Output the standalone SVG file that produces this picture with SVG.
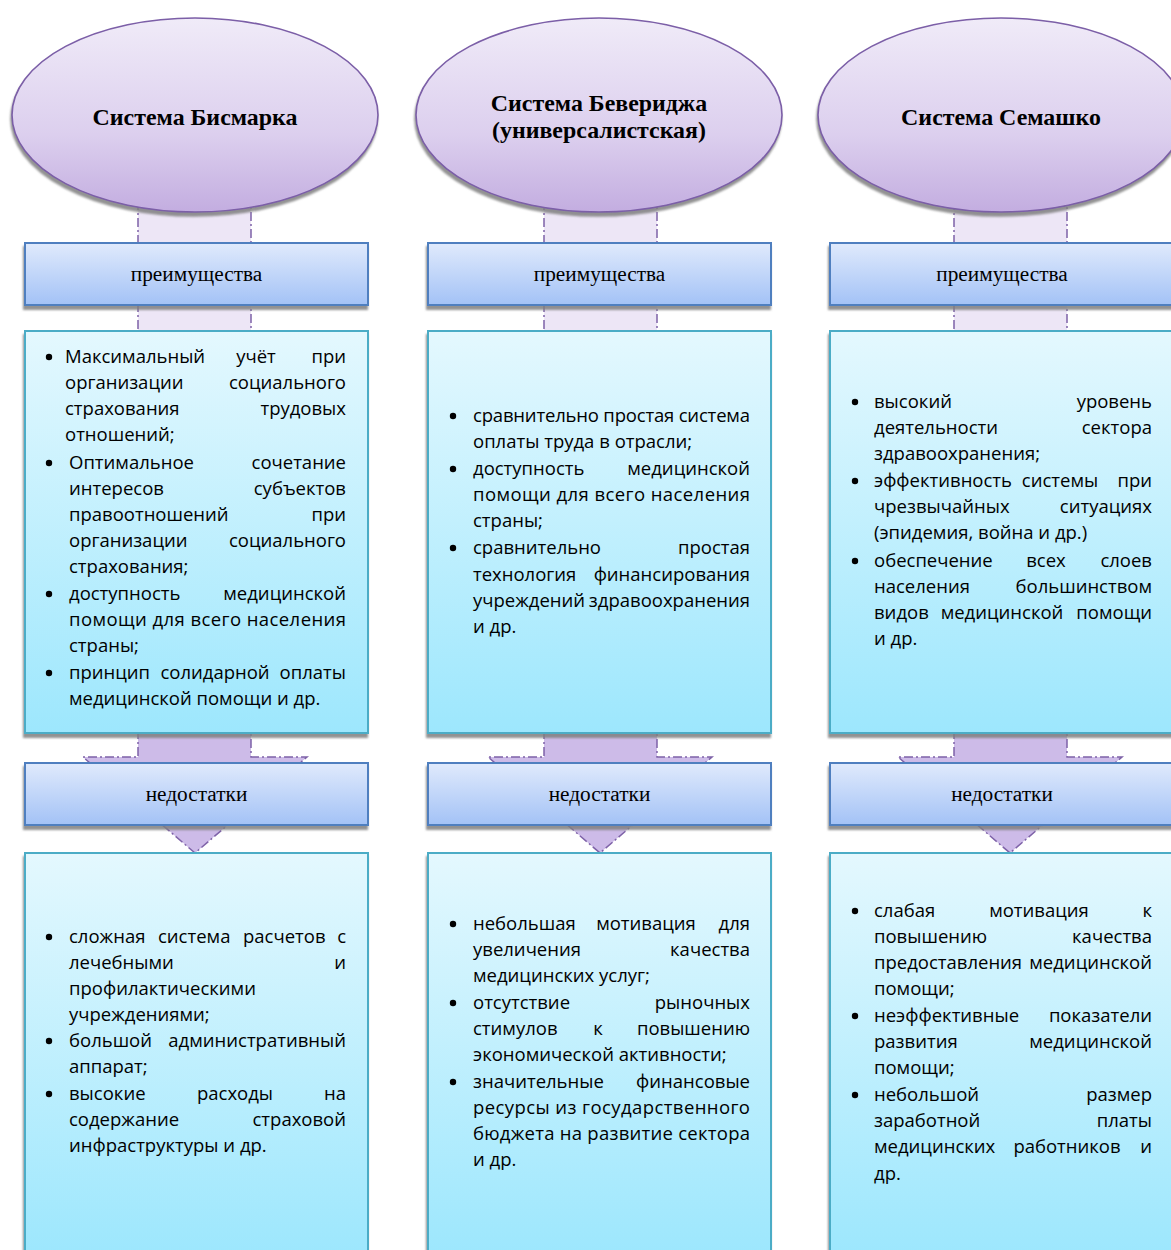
<svg xmlns="http://www.w3.org/2000/svg" width="1171" height="1250" viewBox="0 0 1171 1250">
<defs>
<linearGradient id="gE" x1="0" y1="0" x2="0" y2="1"><stop offset="0" stop-color="#f0ebf8"/><stop offset="0.6" stop-color="#dccfee"/><stop offset="1" stop-color="#c3ade0"/></linearGradient>
<linearGradient id="gL" x1="0" y1="0" x2="0" y2="1"><stop offset="0" stop-color="#e0eafc"/><stop offset="1" stop-color="#a3c2f6"/></linearGradient>
<linearGradient id="gT" x1="0" y1="0" x2="0" y2="1"><stop offset="0" stop-color="#e4f8fe"/><stop offset="1" stop-color="#9de7fd"/></linearGradient>
<filter id="sh" x="-5%" y="-5%" width="110%" height="115%"><feDropShadow dx="-1" dy="4" stdDeviation="1" flood-color="#7f7f7f" flood-opacity="0.85"/></filter>
<style>
.con{fill:#ede6f6;stroke:#7e62a8;stroke-width:1.5;stroke-dasharray:9 3 2 3}
.arr{fill:#cdbbe8;stroke:#7e62a8;stroke-width:1.5;stroke-dasharray:9 3 2 3}
.ell{fill:url(#gE);stroke:#7b5ea7;stroke-width:1.6;filter:url(#sh)}
.lab{fill:url(#gL);stroke:#4f7fbf;stroke-width:2;filter:url(#sh)}
.box{fill:url(#gT);stroke:#4bacc6;stroke-width:2;filter:url(#sh)}
.h{font-family:"Liberation Serif","Times New Roman",serif;font-weight:bold;font-size:23.9px;text-anchor:middle;fill:#000}
.l{font-family:"Liberation Serif","Times New Roman",serif;font-size:21.3px;text-anchor:middle;fill:#000}
.b text{font-family:"Open Sans","Noto Sans",sans-serif;font-size:18.5px;fill:#000}
.b .e{text-anchor:end}
.b .m{text-anchor:middle}
.b circle{fill:#000}
</style>
</defs>
<rect width="1171" height="1250" fill="#fff"/>
<g id="connectors">
<rect class="con" x="138" y="206" width="113" height="127"/>
<rect class="con" x="544" y="206" width="113" height="127"/>
<rect class="con" x="954" y="206" width="113" height="127"/>
<path class="arr" d="M138 730 L138 757 L83 757 L195 853 L307 757 L251 757 L251 730 Z"/>
<path class="arr" d="M544 730 L544 757 L488 757 L600 853 L712 757 L657 757 L657 730 Z"/>
<path class="arr" d="M954 730 L954 757 L898 757 L1010 853 L1122 757 L1067 757 L1067 730 Z"/>
</g>
<g id="node-bismarck">
<ellipse class="ell" cx="195" cy="115" rx="183" ry="97"/>
<text class="h" x="195" y="125">Система Бисмарка</text>
</g>
<g id="node-beveridge">
<ellipse class="ell" cx="599" cy="115" rx="183" ry="97"/>
<text class="h" x="599" y="111">Система Бевериджа</text>
<text class="h" x="599" y="138">(универсалистская)</text>
</g>
<g id="node-semashko">
<ellipse class="ell" cx="1001" cy="115" rx="183" ry="97"/>
<text class="h" x="1001" y="125">Система Семашко</text>
</g>
<g id="adv-1"><rect class="lab" x="25" y="243" width="343" height="62"/><text class="l" x="196.5" y="281">преимущества</text></g>
<g id="adv-2"><rect class="lab" x="428" y="243" width="343" height="62"/><text class="l" x="599.5" y="281">преимущества</text></g>
<g id="adv-3"><rect class="lab" x="830" y="243" width="344" height="62"/><text class="l" x="1002" y="281">преимущества</text></g>
<g id="dis-1"><rect class="lab" x="25" y="763" width="343" height="62"/><text class="l" x="196.5" y="801">недостатки</text></g>
<g id="dis-2"><rect class="lab" x="428" y="763" width="343" height="62"/><text class="l" x="599.5" y="801">недостатки</text></g>
<g id="dis-3"><rect class="lab" x="830" y="763" width="344" height="62"/><text class="l" x="1002" y="801">недостатки</text></g>

<g id="adv-text-1" class="b">
<rect class="box" x="25" y="331" width="343" height="402"/>
<circle cx="49" cy="357" r="3.2"/><circle cx="49" cy="463" r="3.2"/><circle cx="49" cy="594" r="3.2"/><circle cx="49" cy="673" r="3.2"/>
<text x="65" y="363">Максимальный</text><text class="m" x="256" y="363">учёт</text><text class="e" x="346" y="363">при</text>
<text x="65" y="389">организации</text><text class="e" x="346" y="389">социального</text>
<text x="65" y="415">страхования</text><text class="e" x="346" y="415">трудовых</text>
<text x="65" y="441">отношений;</text>
<text x="69" y="469">Оптимальное</text><text class="e" x="346" y="469">сочетание</text>
<text x="69" y="495">интересов</text><text class="e" x="346" y="495">субъектов</text>
<text x="69" y="521">правоотношений</text><text class="e" x="346" y="521">при</text>
<text x="69" y="547">организации</text><text class="e" x="346" y="547">социального</text>
<text x="69" y="573">страхования;</text>
<text x="69" y="600">доступность</text><text class="e" x="346" y="600">медицинской</text>
<text x="69" y="626" textLength="277" lengthAdjust="spacing">помощи для всего населения</text>
<text x="69" y="652">страны;</text>
<text x="69" y="679">принцип</text><text class="m" x="215" y="679">солидарной</text><text class="e" x="346" y="679">оплаты</text>
<text x="69" y="705">медицинской помощи и др.</text>
</g>

<g id="adv-text-2" class="b">
<rect class="box" x="428" y="331" width="343" height="402"/>
<circle cx="453" cy="416" r="3.2"/><circle cx="453" cy="469" r="3.2"/><circle cx="453" cy="548" r="3.2"/>
<text x="473" y="422" textLength="277" lengthAdjust="spacing">сравнительно простая система</text>
<text x="473" y="448">оплаты труда в отрасли;</text>
<text x="473" y="475">доступность</text><text class="e" x="750" y="475">медицинской</text>
<text x="473" y="501" textLength="277" lengthAdjust="spacing">помощи для всего населения</text>
<text x="473" y="527">страны;</text>
<text x="473" y="554">сравнительно</text><text class="e" x="750" y="554">простая</text>
<text x="473" y="581">технология</text><text class="e" x="750" y="581">финансирования</text>
<text x="473" y="607">учреждений</text><text class="e" x="750" y="607">здравоохранения</text>
<text x="473" y="633">и др.</text>
</g>

<g id="adv-text-3" class="b">
<rect class="box" x="830" y="331" width="344" height="402"/>
<circle cx="855" cy="402" r="3.2"/><circle cx="855" cy="481" r="3.2"/><circle cx="855" cy="561" r="3.2"/>
<text x="874" y="408">высокий</text><text class="e" x="1152" y="408">уровень</text>
<text x="874" y="434">деятельности</text><text class="e" x="1152" y="434">сектора</text>
<text x="874" y="460">здравоохранения;</text>
<text x="874" y="487">эффективность</text><text class="m" x="1060" y="487">системы</text><text class="e" x="1152" y="487">при</text>
<text x="874" y="513">чрезвычайных</text><text class="e" x="1152" y="513">ситуациях</text>
<text x="874" y="539">(эпидемия, война и др.)</text>
<text x="874" y="567">обеспечение</text><text class="m" x="1046" y="567">всех</text><text class="e" x="1152" y="567">слоев</text>
<text x="874" y="593">населения</text><text class="e" x="1152" y="593">большинством</text>
<text x="874" y="619">видов</text><text class="m" x="1002" y="619">медицинской</text><text class="e" x="1152" y="619">помощи</text>
<text x="874" y="645">и др.</text>
</g>

<g id="dis-text-1" class="b">
<rect class="box" x="25" y="853" width="343" height="400"/>
<circle cx="49" cy="937" r="3.2"/><circle cx="49" cy="1041" r="3.2"/><circle cx="49" cy="1094" r="3.2"/>
<text x="69" y="943">сложная</text><text x="158" y="943">система</text><text x="243" y="943">расчетов</text><text class="e" x="346" y="943">с</text>
<text x="69" y="969">лечебными</text><text class="e" x="346" y="969">и</text>
<text x="69" y="995">профилактическими</text>
<text x="69" y="1021">учреждениями;</text>
<text x="69" y="1047">большой</text><text class="e" x="346" y="1047">административный</text>
<text x="69" y="1073">аппарат;</text>
<text x="69" y="1100">высокие</text><text class="m" x="235" y="1100">расходы</text><text class="e" x="346" y="1100">на</text>
<text x="69" y="1126">содержание</text><text class="e" x="346" y="1126">страховой</text>
<text x="69" y="1152">инфраструктуры и др.</text>
</g>

<g id="dis-text-2" class="b">
<rect class="box" x="428" y="853" width="343" height="400"/>
<circle cx="453" cy="924" r="3.2"/><circle cx="453" cy="1003" r="3.2"/><circle cx="453" cy="1082" r="3.2"/>
<text x="473" y="930">небольшая</text><text class="m" x="646" y="930">мотивация</text><text class="e" x="750" y="930">для</text>
<text x="473" y="956">увеличения</text><text class="e" x="750" y="956">качества</text>
<text x="473" y="982">медицинских услуг;</text>
<text x="473" y="1009">отсутствие</text><text class="e" x="750" y="1009">рыночных</text>
<text x="473" y="1035">стимулов</text><text class="m" x="598" y="1035">к</text><text class="e" x="750" y="1035">повышению</text>
<text x="473" y="1061">экономической активности;</text>
<text x="473" y="1088">значительные</text><text class="e" x="750" y="1088">финансовые</text>
<text x="473" y="1114" textLength="277" lengthAdjust="spacing">ресурсы из государственного</text>
<text x="473" y="1140" textLength="277" lengthAdjust="spacing">бюджета на развитие сектора</text>
<text x="473" y="1166">и др.</text>
</g>

<g id="dis-text-3" class="b">
<rect class="box" x="830" y="853" width="344" height="400"/>
<circle cx="855" cy="911" r="3.2"/><circle cx="855" cy="1016" r="3.2"/><circle cx="855" cy="1095" r="3.2"/>
<text x="874" y="917">слабая</text><text class="m" x="1039" y="917">мотивация</text><text class="e" x="1152" y="917">к</text>
<text x="874" y="943">повышению</text><text class="e" x="1152" y="943">качества</text>
<text x="874" y="969">предоставления</text><text class="e" x="1152" y="969">медицинской</text>
<text x="874" y="995">помощи;</text>
<text x="874" y="1022">неэффективные</text><text class="e" x="1152" y="1022">показатели</text>
<text x="874" y="1048">развития</text><text class="e" x="1152" y="1048">медицинской</text>
<text x="874" y="1074">помощи;</text>
<text x="874" y="1101">небольшой</text><text class="e" x="1152" y="1101">размер</text>
<text x="874" y="1127">заработной</text><text class="e" x="1152" y="1127">платы</text>
<text x="874" y="1153">медицинских</text><text class="m" x="1067" y="1153">работников</text><text class="e" x="1152" y="1153">и</text>
<text x="874" y="1180">др.</text>
</g>
</svg>
